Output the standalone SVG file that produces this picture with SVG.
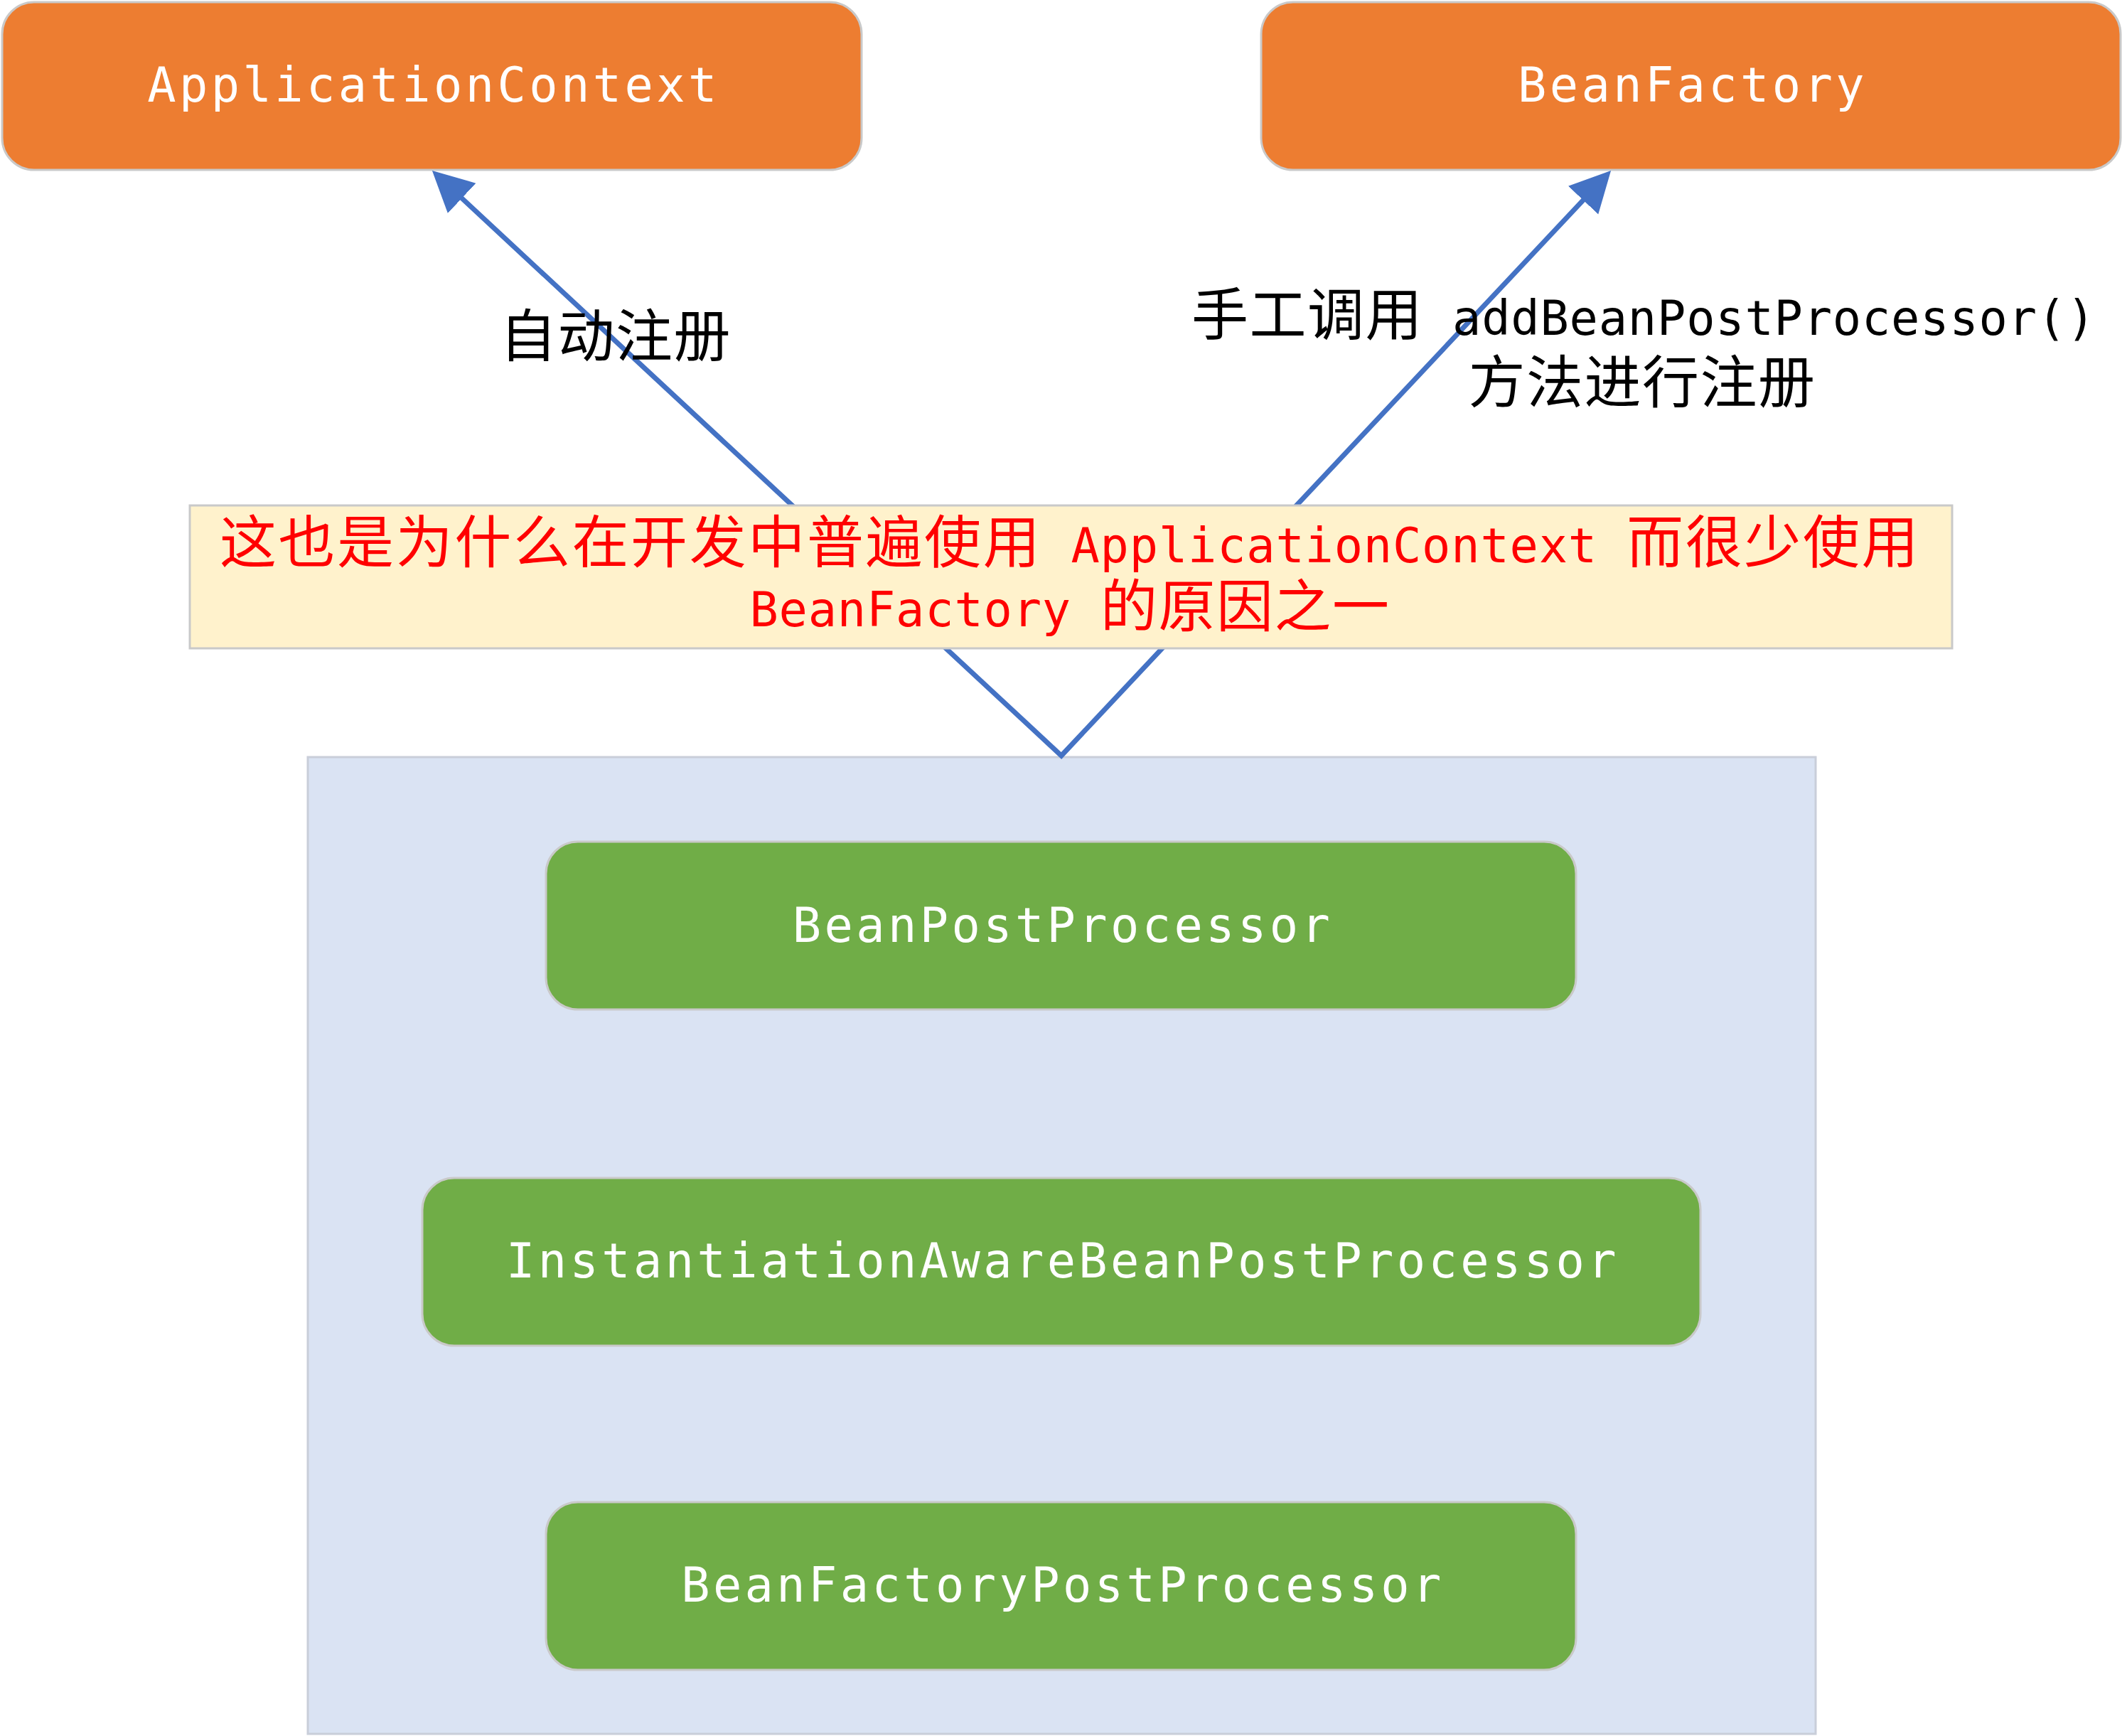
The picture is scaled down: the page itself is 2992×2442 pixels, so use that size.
<svg xmlns="http://www.w3.org/2000/svg" width="2992" height="2442" viewBox="0 0 2992 2442">
<style>
.mono{font-family:"DejaVu Sans Mono","Liberation Mono","Noto Sans CJK SC",monospace;font-size:67px}
.node{fill:#fff;letter-spacing:4.4px}
.cjk{font-family:"Noto Sans CJK SC","Noto Sans",sans-serif;font-size:80px;letter-spacing:1.5px}
.wide{letter-spacing:2.6px}
.lat{letter-spacing:0.8px}
.orange{fill:#ED7D31;stroke:#C9C9C9;stroke-width:3}
.green{fill:#70AD47;stroke:#C9C9C9;stroke-width:3}
.conn{fill:none;stroke:#4472C4;stroke-width:7;stroke-linejoin:miter}
</style>
<defs>
<marker id="ah" viewBox="0 0 57 60" refX="17" refY="30" markerWidth="57" markerHeight="60" markerUnits="userSpaceOnUse" orient="auto-start-reverse">
<path d="M0,1 L57,30 L0,59 Z" fill="#4472C4"/>
</marker>
</defs>
<rect width="2992" height="2442" fill="#fff"/>
<g id="container">
<rect x="433" y="1065" width="2121" height="1374" fill="#DAE3F3" stroke="#C9CED9" stroke-width="3"/>
</g>
<g id="node-applicationcontext">
<rect class="orange" x="3" y="3" width="1209" height="236" rx="45" ry="45"/>
<text class="mono node" x="610" y="143" text-anchor="middle">ApplicationContext</text>
</g>
<g id="node-beanfactory">
<rect class="orange" x="1774" y="3" width="1209" height="236" rx="45" ry="45"/>
<text class="mono node" x="2381" y="143" text-anchor="middle">BeanFactory</text>
</g>
<g id="node-beanpostprocessor">
<rect class="green" x="768" y="1184" width="1449" height="236" rx="45" ry="45"/>
<text class="mono node" x="1495" y="1325" text-anchor="middle">BeanPostProcessor</text>
</g>
<g id="node-instantiationaware">
<rect class="green" x="594" y="1657" width="1798" height="236" rx="45" ry="45"/>
<text class="mono node" x="1495" y="1797" text-anchor="middle">InstantiationAwareBeanPostProcessor</text>
</g>
<g id="node-beanfactorypostprocessor">
<rect class="green" x="768" y="2113" width="1449" height="236" rx="45" ry="45"/>
<text class="mono node" x="1495" y="2253" text-anchor="middle">BeanFactoryPostProcessor</text>
</g>
<g id="connectors">
<path class="conn" d="M637.2,267.3 L1493,1063 L2238.7,269.2" marker-start="url(#ah)" marker-end="url(#ah)"/>
</g>
<g id="note">
<rect x="267" y="711" width="2479" height="201" fill="#FFF2CC" stroke="#C9C9C9" stroke-width="3"/>
<text class="mono" text-anchor="middle" fill="#FF0000"><tspan x="1505" y="791"><tspan class="cjk wide">这也是为什么在开发中普遍使用</tspan><tspan class="lat"> ApplicationContext </tspan><tspan class="cjk wide">而很少使用</tspan></tspan><tspan x="1505" y="881"><tspan class="lat">BeanFactory </tspan><tspan class="cjk">的原因之一</tspan></tspan></text>
</g>
<g id="label-auto">
<text class="cjk" x="866" y="501" text-anchor="middle" fill="#000">自动注册</text>
</g>
<g id="label-manual">
<text class="mono" text-anchor="middle" fill="#000"><tspan x="2312" y="471"><tspan class="cjk">手工调用</tspan><tspan class="lat"> addBeanPostProcessor()</tspan></tspan><tspan class="cjk" x="2310" y="566">方法进行注册</tspan></text>
</g>
</svg>
